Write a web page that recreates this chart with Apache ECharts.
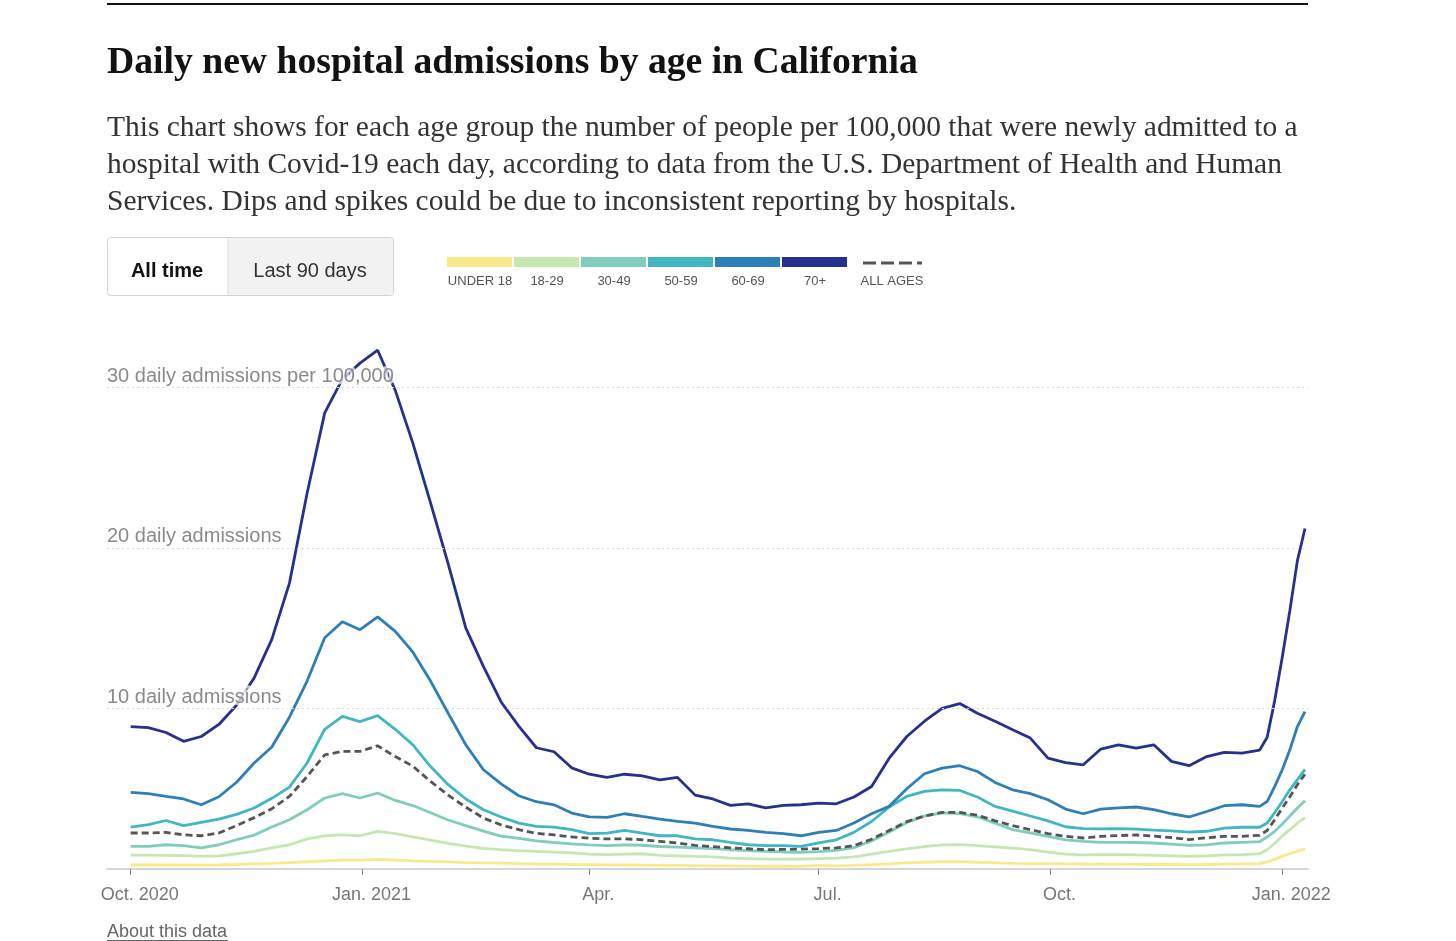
<!DOCTYPE html>
<html>
<head>
<meta charset="utf-8">
<script src="https://cdn.jsdelivr.net/npm/echarts@6/dist/echarts.min.js"></script>
<style>
html,body{margin:0;padding:0;background:#fff;}
#chart{width:1456px;height:941px;}
</style>
</head>
<body>
<div id="chart"></div>
<script>
// ---------- DATA ----------
const dates = [
 '2020-10-01','2020-10-08','2020-10-15','2020-10-22','2020-10-29','2020-11-05','2020-11-12','2020-11-19','2020-11-26','2020-12-03',
 '2020-12-10','2020-12-17','2020-12-24','2020-12-31','2021-01-07','2021-01-14','2021-01-21','2021-01-28','2021-02-04','2021-02-11',
 '2021-02-18','2021-02-25','2021-03-04','2021-03-11','2021-03-18','2021-03-25','2021-04-01','2021-04-08','2021-04-15','2021-04-22',
 '2021-04-29','2021-05-06','2021-05-13','2021-05-20','2021-05-27','2021-06-03','2021-06-10','2021-06-17','2021-06-24','2021-07-01',
 '2021-07-08','2021-07-15','2021-07-22','2021-07-29','2021-08-05','2021-08-12','2021-08-19','2021-08-26','2021-09-02','2021-09-09',
 '2021-09-16','2021-09-23','2021-09-30','2021-10-07','2021-10-14','2021-10-21','2021-10-28','2021-11-04','2021-11-11','2021-11-18',
 '2021-11-25','2021-12-02','2021-12-09','2021-12-16','2021-12-23','2021-12-26','2021-12-29','2022-01-01','2022-01-04','2022-01-07',
 '2022-01-10'
];
const under18 = [0.25,0.25,0.25,0.24,0.24,0.25,0.28,0.32,0.35,0.40, 0.45,0.50,0.55,0.55,0.60,0.55,0.50,0.47,0.44,0.40,
 0.38,0.36,0.33,0.31,0.30,0.28,0.27,0.26,0.25,0.24, 0.23,0.22,0.21,0.20,0.19,0.18,0.17,0.17,0.16,0.22,
 0.20,0.23,0.27,0.32,0.38,0.42,0.45,0.46,0.42,0.38, 0.35,0.34,0.33,0.32,0.30,0.30,0.30,0.29,0.28,0.28,
 0.27,0.28,0.30,0.32,0.33, 0.45,0.60,0.80,0.95,1.10,1.25];
const age18to29 = [0.87,0.86,0.85,0.83,0.80,0.82,0.95,1.10,1.31,1.51, 1.87,2.07,2.13,2.07,2.34,2.20,2.00,1.80,1.60,1.42,
 1.28,1.20,1.14,1.10,1.05,1.00,0.92,0.89,0.93,0.95, 0.85,0.82,0.78,0.75,0.68,0.65,0.62,0.62,0.62,0.65,
 0.68,0.75,0.92,1.10,1.25,1.40,1.50,1.52,1.45,1.38, 1.30,1.20,1.05,0.92,0.88,0.89,0.90,0.88,0.85,0.82,
 0.78,0.82,0.88,0.90,0.95, 1.20,1.60,2.05,2.45,2.85,3.20];
const age30to49 = [1.41,1.41,1.51,1.45,1.31,1.51,1.82,2.11,2.61,3.07, 3.69,4.42,4.69,4.42,4.73,4.27,3.95,3.50,3.05,2.70,
 2.36,2.05,1.90,1.75,1.65,1.57,1.50,1.45,1.50,1.48, 1.40,1.36,1.32,1.27,1.20,1.14,1.10,1.06,1.03,1.08,
 1.16,1.33,1.75,2.30,2.90,3.30,3.50,3.45,3.25,2.85, 2.45,2.25,2.03,1.82,1.72,1.66,1.66,1.65,1.62,1.55,
 1.47,1.50,1.62,1.66,1.70, 2.00,2.35,2.80,3.30,3.80,4.25];
const age50to59 = [2.61,2.76,3.02,2.70,2.90,3.10,3.40,3.80,4.40,5.10, 6.60,8.70,9.50,9.18,9.55,8.70,7.73,6.38,5.25,4.36,
 3.69,3.24,2.86,2.65,2.61,2.45,2.20,2.24,2.40,2.24, 2.07,2.07,1.87,1.82,1.66,1.51,1.45,1.45,1.41,1.62,
 1.82,2.28,2.96,3.86,4.52,4.83,4.93,4.89,4.48,3.90, 3.60,3.30,3.00,2.63,2.52,2.50,2.52,2.48,2.42,2.38,
 2.30,2.35,2.55,2.60,2.60, 2.86,3.52,4.20,4.93,5.56,6.20];
const age60to69 = [4.77,4.69,4.52,4.36,4.00,4.50,5.40,6.60,7.60,9.45, 11.7,14.4,15.4,14.9,15.7,14.8,13.5,11.7,9.70,7.73,
 6.18,5.30,4.56,4.19,4.00,3.48,3.24,3.21,3.44,3.27, 3.11,2.96,2.86,2.65,2.49,2.40,2.28,2.20,2.07,2.28,
 2.40,2.86,3.44,3.90,5.00,5.93,6.28,6.43,6.07,5.39, 4.93,4.69,4.31,3.73,3.44,3.73,3.80,3.86,3.69,3.44,
 3.24,3.58,3.94,4.00,3.90, 4.20,5.14,6.18,7.42,8.87,9.80];
const age70plus = [8.87,8.80,8.50,7.95,8.25,9.00,10.2,11.9,14.3,17.8, 23.4,28.4,30.5,31.5,32.3,29.8,26.5,22.8,19.0,15.0,
 12.6,10.4,8.90,7.55,7.30,6.30,5.90,5.70,5.90,5.80, 5.55,5.70,4.60,4.36,3.96,4.06,3.80,3.96,4.00,4.10,
 4.06,4.48,5.14,6.90,8.25,9.20,10.0,10.3,9.70,9.20, 8.67,8.15,6.90,6.63,6.49,7.47,7.73,7.53,7.73,6.70,
 6.43,7.00,7.26,7.22,7.40, 8.20,10.5,13.2,16.1,19.2,21.2];
const allAges = [2.24,2.24,2.28,2.13,2.07,2.24,2.70,3.20,3.75,4.52, 5.76,7.11,7.32,7.32,7.67,7.00,6.40,5.45,4.60,3.85,
 3.17,2.75,2.45,2.22,2.12,2.00,1.92,1.87,1.88,1.82, 1.72,1.62,1.47,1.40,1.32,1.26,1.20,1.22,1.24,1.27,
 1.31,1.45,1.85,2.40,2.95,3.30,3.52,3.52,3.35,3.00, 2.70,2.45,2.20,2.03,1.93,2.03,2.08,2.12,2.05,1.95,
 1.83,1.95,2.03,2.03,2.10, 2.40,3.07,3.80,4.50,5.25,5.90];

const groupNames = ['UNDER 18','18-29','30-49','50-59','60-69','70+'];
const groupValues = [under18, age18to29, age30to49, age50to59, age60to69, age70plus];
const groupColors = ['#f8ea8b','#c5e7b0','#7fcdbb','#41b6c4','#2c7fb8','#24318e'];
const allAgesName = 'ALL AGES';
const allAgesColor = '#555555';

const xTickDates = ['2020-10-01','2021-01-01','2021-04-01','2021-07-01','2021-10-01','2022-01-01'];
const xTickLabels = ['Oct. 2020','Jan. 2021','Apr.','Jul.','Oct.','Jan. 2022'];
const yTickValues = [10, 20, 30];
const yTickLabels = ['10 daily admissions','20 daily admissions','30 daily admissions per 100,000'];

const titleText = 'Daily new hospital admissions by age in California';
const descLines = [
 'This chart shows for each age group the number of people per 100,000 that were newly admitted to a',
 'hospital with Covid-19 each day, according to data from the U.S. Department of Health and Human',
 'Services. Dips and spikes could be due to inconsistent reporting by hospitals.'
];

// ---------- HELPERS ----------
function toTime(s){ const p = s.split('-').map(Number); return Date.UTC(p[0], p[1]-1, p[2]); }
const DAY = 86400000;
const xTickTimes = xTickDates.map(toTime);
const origin = toTime('2020-10-01');

const mctx = document.createElement('canvas').getContext('2d');
function fitSize(text, weight, family, width){
  mctx.font = weight + ' 100px ' + family;
  return 100 * width / mctx.measureText(text).width;
}
const serif = '"Liberation Serif", "Times New Roman", serif';
const sans = '"Liberation Sans", Arial, sans-serif';
const titleSize = fitSize(titleText, 'bold', serif, 811);
const descSize = fitSize(descLines[0], 'normal', serif, 1191);

// ---------- CHART ----------
const chart = echarts.init(document.getElementById('chart'), null, {renderer:'canvas'});

const series = groupNames.map((name, i) => ({
  name, type:'line', showSymbol:false, symbol:'none', smooth:false,
  data: dates.map((d, j) => [toTime(d), groupValues[i][j]]),
  lineStyle:{color: groupColors[i], width: 2.8},
  itemStyle:{color: groupColors[i]},
  emphasis:{disabled:true}, z: 2
}));
series.push({
  name: allAgesName, type:'line', showSymbol:false, symbol:'none', smooth:false,
  data: dates.map((d, j) => [toTime(d), allAges[j]]),
  lineStyle:{color: allAgesColor, width: 2.8, type:[7,4]},
  itemStyle:{color: allAgesColor},
  emphasis:{disabled:true}, z: 2
});

const graphics = [];
graphics.push({type:'rect', shape:{x:107, y:3, width:1201, height:2}, style:{fill:'#121212'}});
graphics.push({type:'text', x:107, y:63, style:{text:titleText, fontSize:titleSize, fontWeight:'bold', fontFamily:serif, fill:'#121212', align:'left', verticalAlign:'middle'}});
descLines.forEach((t, i) => graphics.push({type:'text', x:107, y:128 + i*37, style:{text:t, fontSize:descSize, fontFamily:serif, fill:'#333333', align:'left', verticalAlign:'middle'}}));
// toggle buttons
graphics.push({type:'rect', shape:{x:107.5, y:237.5, width:286, height:58, r:3}, style:{fill:'#ffffff', stroke:'#d4d4d4', lineWidth:1}});
graphics.push({type:'rect', shape:{x:228, y:238, width:165, height:57, r:[0,3,3,0]}, style:{fill:'#f2f2f2'}});
graphics.push({type:'line', shape:{x1:228, y1:238, x2:228, y2:295}, style:{stroke:'#dcdcdc', lineWidth:1}});
graphics.push({type:'text', x:167, y:271, style:{text:'All time', fontSize:20, fontWeight:'bold', fontFamily:sans, fill:'#121212', align:'center', verticalAlign:'middle'}});
graphics.push({type:'text', x:310, y:271, style:{text:'Last 90 days', fontSize:20, fontFamily:sans, fill:'#333333', align:'center', verticalAlign:'middle'}});
// legend
groupNames.forEach((name, i) => {
  const x0 = 447 + i*67;
  graphics.push({type:'rect', shape:{x:x0, y:257, width:65, height:10}, style:{fill:groupColors[i]}});
  graphics.push({type:'text', x:x0 + 33, y:281, style:{text:name, fontSize:13, fontFamily:sans, fill:'#555555', align:'center', verticalAlign:'middle'}});
});
graphics.push({type:'line', shape:{x1:863, y1:263, x2:922, y2:263}, style:{stroke:allAgesColor, lineWidth:3, lineDash:[13,5]}});
graphics.push({type:'text', x:892, y:281, style:{text:allAgesName, fontSize:13, fontFamily:sans, fill:'#555555', align:'center', verticalAlign:'middle'}});
// about link
graphics.push({type:'text', x:107, y:932, style:{text:'About this data', fontSize:18, fontFamily:sans, fill:'#666666', align:'left', verticalAlign:'middle'}});
graphics.push({type:'line', shape:{x1:107, y1:940.5, x2:228, y2:940.5}, style:{stroke:'#666666', lineWidth:1}});

function nearestTickLabel(v){
  for (let i = 0; i < xTickTimes.length; i++) if (Math.abs(xTickTimes[i] - v) < DAY) return xTickLabels[i];
  return '';
}

chart.setOption({
  animation:false,
  backgroundColor:'#ffffff',
  grid:{left:107, right:148, top:339, bottom:72, containLabel:false, outerBoundsMode:'none'},
  xAxis:{
    type:'value',
    min: origin - 9.4*DAY,
    max: origin + 467.2*DAY,
    axisLine:{show:true, lineStyle:{color:'#d6d6d6', width:2}},
    axisTick:{show:true, customValues: xTickTimes, length:6, lineStyle:{color:'#8a8a8a', width:1}},
    axisLabel:{show:true, customValues: xTickTimes, formatter: nearestTickLabel, color:'#777777', fontSize:18, fontFamily:sans, margin:17, padding:[0,0,0,18], hideOverlap:false},
    splitLine:{show:false}
  },
  yAxis:{
    type:'value', min:0, max:33, interval:10, z:3,
    axisLine:{show:false}, axisTick:{show:false},
    splitLine:{show:true, showMinLine:false, showMaxLine:false, lineStyle:{color:'#d9d9d9', width:1, type:[2,3]}},
    axisLabel:{
      inside:true, margin:0, align:'left', verticalAlign:'bottom', padding:[0,0,1,0],
      color:'#8a8a8a', fontSize:20, fontFamily:sans,
      textBorderColor:'rgba(255,255,255,0.7)', textBorderWidth:5,
      formatter: v => { const i = yTickValues.indexOf(v); return i >= 0 ? yTickLabels[i] : ''; }
    }
  },
  tooltip:{show:false},
  series,
  graphic: graphics
});
</script>
</body>
</html>
